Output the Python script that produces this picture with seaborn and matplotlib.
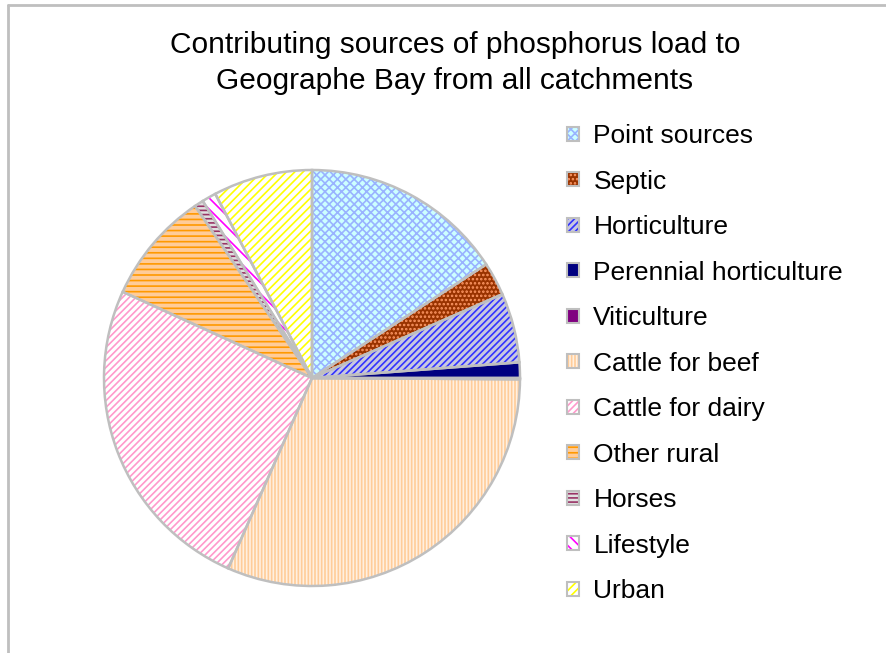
import matplotlib
matplotlib.use("Agg")
import matplotlib.pyplot as plt
import seaborn as sns
from matplotlib.patches import Patch
from matplotlib.lines import Line2D

# Data (percent of total phosphorus load)
sources = ['Point sources', 'Septic', 'Horticulture', 'Perennial horticulture',
           'Viticulture', 'Cattle for beef', 'Cattle for dairy', 'Other rural',
           'Horses', 'Lifestyle', 'Urban']
load_pct = [15.8, 2.6, 5.4, 1.2, 0.1, 31.5, 25.2, 8.7, 0.7, 1.1, 7.7]

# fill colour, hatch colour, hatch pattern per source
face_cols = ['#CCFFFF', '#993300', '#C8C8E0', '#000080', '#800080', '#FFF0E0',
             '#FFFFFF', '#FFCC99', '#E0E0E0', '#FFFFFF', '#FFFFFF']
hatch_cols = ['#99B3FF', '#FF9966', '#3333FF', '#000080', '#800080', '#FFCC99',
              '#FF99CC', '#FF9900', '#993366', '#FF00FF', '#FFFF00']
hatches = ['xxxx', '....', '/////', '', '', '|||||', '/////', '---', '----', '\\\\\\', '////']

sns.set_theme(style='white')
plt.rcParams['font.family'] = ['Liberation Sans', 'DejaVu Sans']
plt.rcParams['text.color'] = 'black'
plt.rcParams['hatch.linewidth'] = 1.2

W, H = 886, 653
fig = plt.figure(figsize=(W / 100, H / 100), dpi=100)

# pie centred at (312, 378) px, radius 208 px
cx, cy, r = 312, 378, 208
ax = fig.add_axes([(cx - r) / W, (H - cy - r) / H, 2 * r / W, 2 * r / H])

# filled, hatched wedges
wedges, _ = ax.pie(load_pct, startangle=90, counterclock=False,
                   colors=face_cols, wedgeprops=dict(linewidth=0))
for w, hc, ht in zip(wedges, hatch_cols, hatches):
    w.set_edgecolor(hc)
    w.set_hatch(ht)
# grey outlines on top
ax.pie(load_pct, startangle=90, counterclock=False,
       wedgeprops=dict(fill=False, edgecolor='#BFBFBF', linewidth=1.8))
ax.set_xlim(-1.0, 1.0)
ax.set_ylim(-1.0, 1.0)
ax.set_aspect('equal')
ax.axis('off')

# title
fig.text(455 / W, 1 - 63 / H, 'Contributing sources of phosphorus load to\nGeographe Bay from all catchments',
         ha='center', va='center', fontsize=21.5, linespacing=1.36, color='black')

# legend: hatched square with a grey border
handles = []
for fc, hc, ht in zip(face_cols, hatch_cols, hatches):
    fill = Patch(facecolor=fc, edgecolor=hc, hatch=ht, linewidth=0)
    border = Patch(facecolor='none', edgecolor='#BFBFBF', linewidth=1.5)
    handles.append((fill, border))
leg = fig.legend(handles, sources, loc='upper left', bbox_to_anchor=(567 / W, 1 - 124 / H),
                 frameon=False, fontsize=19, handlelength=0.45, handleheight=0.45,
                 handletextpad=0.55, labelspacing=0.815, borderpad=0, borderaxespad=0)
for t in leg.get_texts():
    t.set_color('black')

# outer chart frame (top and left edges visible)
fig.add_artist(Line2D([7.5 / W, 7.5 / W], [0, 1 - 5 / H], transform=fig.transFigure,
                      color='#BFBFBF', linewidth=2))
fig.add_artist(Line2D([7.5 / W, 1], [1 - 5 / H, 1 - 5 / H], transform=fig.transFigure,
                      color='#BFBFBF', linewidth=2))

fig.savefig('out.png', dpi=100, facecolor='white')
